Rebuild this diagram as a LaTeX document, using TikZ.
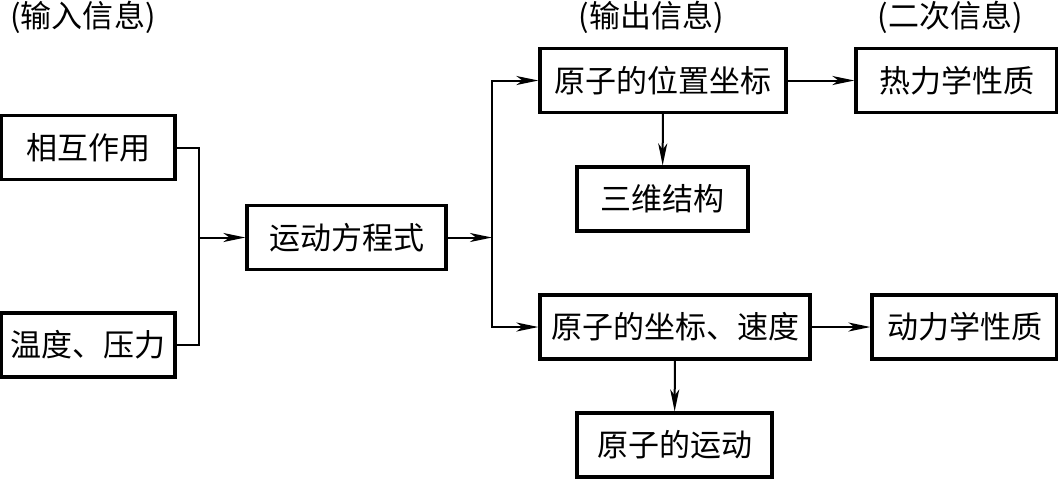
\documentclass[tikz,border=0pt]{standalone}
\usepackage{fontspec}
\setmainfont{Noto Sans CJK SC}
\usetikzlibrary{arrows.meta,positioning}

\begin{document}
\begin{tikzpicture}[x=0.5pt,y=-0.5pt,box/.style={draw,line width=1.6pt,minimum height=32pt,inner sep=0pt,font=\fontsize{15.5}{18}\selectfont},head/.style={font=\fontsize{15.5}{18}\selectfont},conn/.style={line width=1pt},arr/.style={-{Stealth[length=11pt,width=4.5pt,inset=3pt]},line width=1pt}]
\useasboundingbox (0,0) rectangle (1058,479);
\node[head] (hin) at (83,17) {(输入信息)};
\node[head] (hout) at (651,17) {(输出信息)};
\node[head] (hsec) at (950,17) {(二次信息)};
\node[box,minimum width=87pt] (inter) at (88,147.5) {相互作用};
\node[box,minimum width=87pt] (temp) at (88,345) {温度、压力};
\node[box,minimum width=99.5pt] (eq) at (346.5,237.5) {运动方程式};
\node[box,minimum width=123pt] (pos) at (663,80.5) {原子的位置坐标};
\node[box,minimum width=85.5pt] (struct) at (662.5,199) {三维结构};
\node[box,minimum width=100.5pt] (thermo) at (956.5,80.5) {热力学性质};
\node[box,minimum width=135pt] (vel) at (675,327) {原子的坐标、速度};
\node[box,minimum width=92.5pt] (kin) at (964.5,327) {动力学性质};
\node[box,minimum width=97.5pt] (motion) at (674.5,445) {原子的运动};
\coordinate (jin) at (199,237.5);
\coordinate (jout) at (492,237.5);
\draw[conn](inter.east)-|(jin);\draw[conn](temp.east)-|(jin);\draw[arr](jin)--(eq.west);
\draw[arr](eq.east)--(jout);\draw[arr](jout)|-(pos.west);\draw[arr](jout)|-(vel.west);
\draw[arr](pos)--(struct);\draw[arr](pos)--(thermo);\draw[arr](vel)--(kin);\draw[arr](vel)--(motion);
\end{tikzpicture}
\end{document}
